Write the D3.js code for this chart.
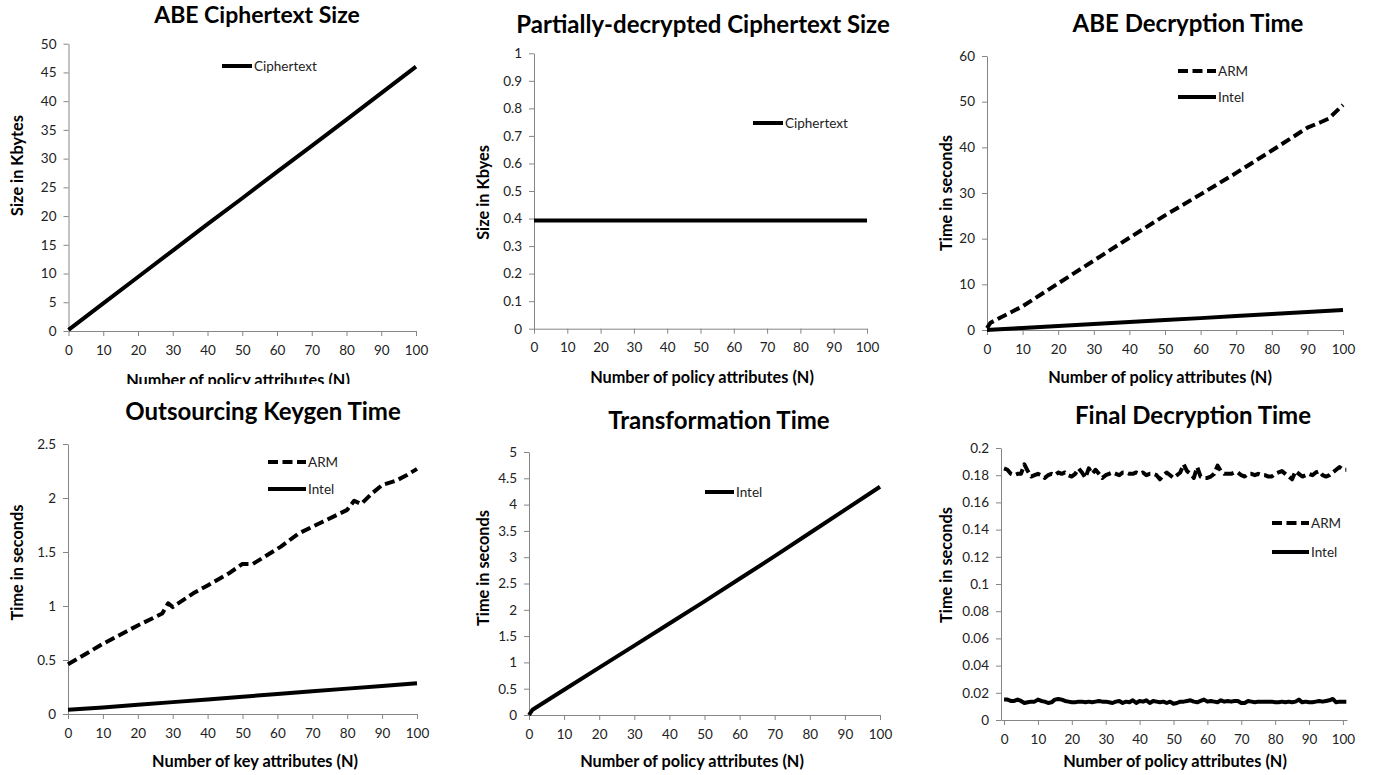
<!DOCTYPE html>
<html>
<head>
<meta charset="utf-8">
<script src="https://cdn.jsdelivr.net/npm/d3@7"></script>
<style>
body { margin: 0; background: #fff; }
svg { display: block; font-family: Lato, "Open Sans", sans-serif; }
.axis path, .axis line { stroke: #868686; stroke-width: 1; }
.axis text { font-size: 13.5px; fill: #222; font-family: Lato, "Open Sans", sans-serif; }
.title { font-size: 24px; font-weight: bold; fill: #000; text-anchor: middle; }
.alabel { font-size: 16.3px; font-weight: bold; fill: #000; text-anchor: middle; }
.legend text { font-size: 13.5px; fill: #222; }
</style>
</head>
<body>
<svg width="1377" height="775"></svg>
<script>
// x tick labels shared by all panels
var xTickLabels = [0, 10, 20, 30, 40, 50, 60, 70, 80, 90, 100];

// ABE ciphertext size
var abeCtN = [0, 10, 20, 30, 40, 50, 60, 70, 80, 90, 100];
var abeCtSize = [0.2, 4.8, 9.4, 14, 18.6, 23.1, 27.7, 32.2, 36.8, 41.4, 46];
var abeCtTicks = [0, 5, 10, 15, 20, 25, 30, 35, 40, 45, 50];

// partially-decrypted ciphertext size
var partN = [0, 100];
var partSize = [0.393, 0.393];
var partTicks = [0, 0.1, 0.2, 0.3, 0.4, 0.5, 0.6, 0.7, 0.8, 0.9, 1];

// ABE decryption time
var decN = [0, 1, 10, 20, 30, 40, 50, 60, 70, 80, 85, 90, 94, 96, 100];
var decArm = [0.4, 1.6, 5.2, 10.2, 15.2, 20.2, 25.1, 29.7, 34.4, 39.3, 41.8, 44.3, 45.6, 46.3, 49.3];
var decIntelN = [0, 1, 10, 20, 30, 40, 50, 60, 70, 80, 90, 100];
var decIntel = [0, 0.05, 0.45, 0.9, 1.3, 1.75, 2.2, 2.6, 3.05, 3.5, 3.95, 4.4];
var decTicks = [0, 10, 20, 30, 40, 50, 60];

// outsourcing keygen time
var keyN = [0, 10, 20, 27, 28.7, 30, 36, 40, 46, 50, 53, 61, 66, 73, 80, 82, 84, 87, 90, 94, 97, 100];
var keyArm = [0.46, 0.65, 0.82, 0.93, 1.025, 0.99, 1.12, 1.19, 1.3, 1.39, 1.39, 1.55, 1.67, 1.78, 1.89, 1.975, 1.944, 2.04, 2.12, 2.16, 2.21, 2.27];
var keyIntelN = [0, 10, 20, 30, 40, 50, 60, 70, 80, 90, 100];
var keyIntel = [0.04, 0.06, 0.085, 0.11, 0.135, 0.16, 0.185, 0.21, 0.235, 0.26, 0.285];
var keyTicks = [0, 0.5, 1, 1.5, 2, 2.5];

// transformation time
var transN = [0, 1, 10, 20, 30, 40, 50, 60, 70, 80, 90, 100];
var transIntel = [0, 0.1, 0.48, 0.9, 1.32, 1.74, 2.16, 2.59, 3.02, 3.46, 3.9, 4.34];
var transTicks = [0, 0.5, 1, 1.5, 2, 2.5, 3, 3.5, 4, 4.5, 5];

// final decryption time, one value per N = 0..101
var finalArm = [0.185, 0.184, 0.181, 0.180, 0.181, 0.181, 0.188, 0.183, 0.179, 0.180,
  0.181, 0.180, 0.178, 0.180, 0.181, 0.180, 0.182, 0.181, 0.182, 0.180,
  0.179, 0.181, 0.185, 0.182, 0.178, 0.185, 0.181, 0.184, 0.181, 0.178,
  0.180, 0.181, 0.182, 0.181, 0.180, 0.182, 0.182, 0.181, 0.181, 0.182,
  0.181, 0.182, 0.180, 0.181, 0.181, 0.180, 0.177, 0.180, 0.182, 0.180,
  0.178, 0.180, 0.182, 0.188, 0.183, 0.181, 0.178, 0.186, 0.179, 0.178,
  0.178, 0.179, 0.181, 0.187, 0.183, 0.181, 0.181, 0.181, 0.182, 0.182,
  0.180, 0.179, 0.181, 0.181, 0.180, 0.181, 0.180, 0.180, 0.179, 0.179,
  0.181, 0.182, 0.183, 0.181, 0.179, 0.177, 0.183, 0.181, 0.179, 0.180,
  0.181, 0.180, 0.182, 0.183, 0.180, 0.179, 0.180, 0.182, 0.184, 0.186,
  0.184, 0.184];
var finalIntel = [0.015, 0.015, 0.014, 0.014, 0.015, 0.014, 0.0125, 0.013, 0.0135, 0.0135,
  0.015, 0.014, 0.0135, 0.0125, 0.013, 0.015, 0.0155, 0.015, 0.014, 0.0135,
  0.013, 0.013, 0.0135, 0.0135, 0.013, 0.0135, 0.013, 0.0135, 0.014, 0.0135,
  0.0135, 0.013, 0.0125, 0.0135, 0.014, 0.0125, 0.0135, 0.013, 0.0145, 0.0125,
  0.014, 0.0135, 0.0145, 0.0125, 0.014, 0.0135, 0.013, 0.0135, 0.0125, 0.0135,
  0.012, 0.0125, 0.0135, 0.0135, 0.014, 0.0145, 0.0135, 0.013, 0.014, 0.015,
  0.0135, 0.014, 0.0135, 0.013, 0.0145, 0.0135, 0.014, 0.0135, 0.014, 0.014,
  0.0125, 0.0125, 0.014, 0.0135, 0.013, 0.0135, 0.0135, 0.0135, 0.0135, 0.0135,
  0.013, 0.013, 0.0135, 0.013, 0.0135, 0.013, 0.0135, 0.015, 0.013, 0.0135,
  0.013, 0.013, 0.0135, 0.014, 0.0135, 0.014, 0.0145, 0.0155, 0.013, 0.0135,
  0.0135, 0.0135];
var finalTicks = [0, 0.02, 0.04, 0.06, 0.08, 0.1, 0.12, 0.14, 0.16, 0.18, 0.2];

var svg = d3.select("svg");

function pairs(xs, ys) {
    return ys.map(function(v, i) { return [xs ? xs[i] : i, v]; });
}

function drawPanel(cfg) {
    var g = svg.append("g");
    var x = d3.scaleLinear().domain(cfg.xDomain || [0, 100]).range([cfg.left, cfg.right]);
    var y = d3.scaleLinear().domain([0, cfg.yTicks[cfg.yTicks.length - 1]]).range([cfg.bottom, cfg.top]);

    g.append("g")
        .attr("class", "axis")
        .attr("transform", "translate(0," + cfg.bottom + ")")
        .call(d3.axisBottom(x).tickValues(xTickLabels).tickSize(5).tickSizeOuter(0).tickPadding(9).tickFormat(d3.format("d")));

    g.append("g")
        .attr("class", "axis")
        .attr("transform", "translate(" + cfg.left + ",0)")
        .call(d3.axisLeft(y).tickValues(cfg.yTicks).tickSize(5).tickSizeOuter(0).tickPadding(7).tickFormat(function(d) { return String(d); }));

    g.selectAll(".axis .domain").attr("fill", "none");

    var line = d3.line().x(function(d) { return x(d[0]); }).y(function(d) { return y(d[1]); });

    cfg.series.forEach(function(s) {
        g.append("path")
            .datum(s.data)
            .attr("fill", "none")
            .attr("stroke", "#000")
            .attr("stroke-width", 4)
            .attr("stroke-linejoin", "round")
            .attr("stroke-dasharray", s.dash ? "10,4.5" : null)
            .attr("d", line);
    });

    // legend
    var lg = g.append("g").attr("class", "legend");
    cfg.series.forEach(function(s, i) {
        var ly = cfg.legend.y[i];
        lg.append("line")
            .attr("x1", cfg.legend.x1).attr("x2", cfg.legend.x2)
            .attr("y1", ly).attr("y2", ly)
            .attr("stroke", "#000").attr("stroke-width", 4)
            .attr("stroke-dasharray", s.dash ? "10,4.5" : null);
        lg.append("text")
            .attr("x", cfg.legend.x2 + 2).attr("y", ly).attr("dy", "0.35em")
            .text(s.name);
    });

    g.append("text").attr("class", "title")
        .attr("x", cfg.title[0]).attr("y", cfg.title[1])
        .style("font-size", cfg.titleSize ? cfg.titleSize + "px" : null)
        .text(cfg.titleText);

    var xl = g.append("text").attr("class", "alabel")
        .attr("x", cfg.xLabel[0]).attr("y", cfg.xLabel[1])
        .text(cfg.xLabelText);
    if (cfg.clipX) {
        svg.append("clipPath").attr("id", "clip" + cfg.id)
            .append("rect").attr("x", 0).attr("y", 0).attr("width", 1377).attr("height", cfg.clipX);
        xl.attr("clip-path", "url(#clip" + cfg.id + ")");
    }

    g.append("text").attr("class", "alabel")
        .attr("transform", "translate(" + cfg.yLabel[0] + "," + cfg.yLabel[1] + ") rotate(-90)")
        .text(cfg.yLabelText);
}

drawPanel({
    id: 1, left: 68.5, right: 416, top: 43.7, bottom: 331,
    yTicks: abeCtTicks,
    series: [{name: "Ciphertext", data: pairs(abeCtN, abeCtSize)}],
    legend: {x1: 222, x2: 252, y: [66]},
    titleText: "ABE Ciphertext Size", title: [257, 23], titleSize: 23,
    xLabelText: "Number of policy attributes (N)", xLabel: [238, 386], clipX: 384,
    yLabelText: "Size in Kbytes", yLabel: [23, 165.5]
});

drawPanel({
    id: 2, left: 534, right: 867, top: 53.3, bottom: 328.7,
    yTicks: partTicks,
    series: [{name: "Ciphertext", data: pairs(partN, partSize)}],
    legend: {x1: 753, x2: 783, y: [123]},
    titleText: "Partially-decrypted Ciphertext Size", title: [703, 33],
    xLabelText: "Number of policy attributes (N)", xLabel: [702, 383],
    yLabelText: "Size in Kbyes", yLabel: [489, 192.5]
});

drawPanel({
    id: 3, left: 987, right: 1343, top: 56, bottom: 330,
    yTicks: decTicks,
    series: [
        {name: "ARM", dash: true, data: pairs(decN, decArm)},
        {name: "Intel", data: pairs(decIntelN, decIntel)}
    ],
    legend: {x1: 1178, x2: 1216, y: [71, 97]},
    titleText: "ABE Decryption Time", title: [1188, 32],
    xLabelText: "Number of policy attributes (N)", xLabel: [1160, 383],
    yLabelText: "Time in seconds", yLabel: [951.5, 193]
});

drawPanel({
    id: 4, left: 68, right: 417, top: 444, bottom: 714,
    yTicks: keyTicks,
    series: [
        {name: "ARM", dash: true, data: pairs(keyN, keyArm)},
        {name: "Intel", data: pairs(keyIntelN, keyIntel)}
    ],
    legend: {x1: 268, x2: 306, y: [462, 489]},
    titleText: "Outsourcing Keygen Time", title: [263, 420],
    xLabelText: "Number of key attributes (N)", xLabel: [255, 767],
    yLabelText: "Time in seconds", yLabel: [22.5, 562.5]
});

drawPanel({
    id: 5, left: 529, right: 880, top: 452, bottom: 715,
    yTicks: transTicks,
    series: [{name: "Intel", data: pairs(transN, transIntel)}],
    legend: {x1: 705, x2: 734, y: [492]},
    titleText: "Transformation Time", title: [719, 429],
    xLabelText: "Number of policy attributes (N)", xLabel: [692, 767],
    yLabelText: "Time in seconds", yLabel: [489, 568]
});

drawPanel({
    id: 6, left: 1001, right: 1347, top: 448, bottom: 720, xDomain: [-0.9, 101.2],
    yTicks: finalTicks,
    series: [
        {name: "ARM", dash: true, data: pairs(null, finalArm)},
        {name: "Intel", data: pairs(null, finalIntel)}
    ],
    legend: {x1: 1272, x2: 1309, y: [523, 552]},
    titleText: "Final Decryption Time", title: [1193, 424],
    xLabelText: "Number of policy attributes (N)", xLabel: [1175, 767],
    yLabelText: "Time in seconds", yLabel: [952, 565]
});
</script>
</body>
</html>
